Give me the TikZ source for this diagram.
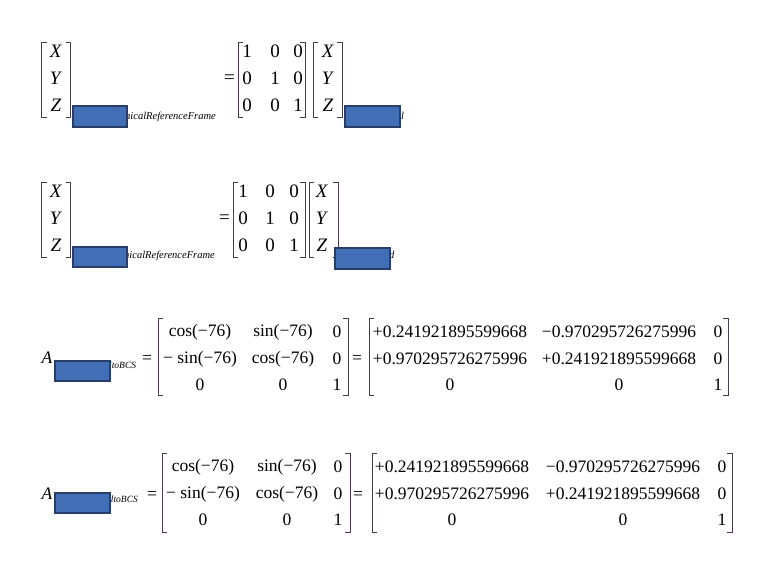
\documentclass[tikz,border=0pt]{standalone}
\usepackage{fontspec}
\setmainfont{Liberation Serif}
\definecolor{maskfill}{RGB}{66,110,182}
\definecolor{maskdraw}{RGB}{40,62,105}
\definecolor{brkc}{RGB}{70,60,72}
\tikzset{
  big/.style={font=\fontsize{19}{19}\selectfont, inner sep=0pt},
  mid/.style={font=\fontsize{17.5}{17.5}\selectfont, inner sep=0pt},
  subtxt/.style={font=\fontsize{10.5}{10.5}\selectfont\itshape, inner sep=0pt, anchor=base west},
  brk/.style={draw=brkc, line width=0.85pt},
  mask/.style={fill=maskfill, draw=maskdraw, line width=1.6pt},
}
\newcommand\lbr[3]{\draw[brk] (#1+5,#2) -- (#1,#2) -- (#1,#3) -- (#1+5,#3);}
\newcommand\rbr[3]{\draw[brk] (#1-5,#2) -- (#1,#2) -- (#1,#3) -- (#1-5,#3);}
\begin{document}
\begin{tikzpicture}[x=1pt,y=-1pt]
\useasboundingbox[fill=white] (0,0) rectangle (768,565);

% ---------- Equation 1 ----------
\lbr{41.7}{42.7}{117}\rbr{70.7}{42.7}{117}
\node[big] (a1x) at (56,51.7) {\textit{X}};
\node[big] (a1y) at (56,78.5) {\textit{Y}};
\node[big] (a1z) at (56,105.5) {\textit{Z}};
\node[subtxt] (a1s) at (125,119) {nicalReferenceFrame};
\draw[mask] (73,106) rectangle (127,127);
\node[big] (a1eq) at (229.5,79) {=};
\lbr{238}{42.7}{117}\rbr{305}{42.7}{117}
\node[big] (m1a) at (247,51.7) {1};
\node[big] (m1b) at (275,51.7) {0};
\node[big] (m1c) at (298,51.7) {0};
\node[big] (m1d) at (247,78.5) {0};
\node[big] (m1e) at (275,78.5) {1};
\node[big] (m1f) at (298,78.5) {0};
\node[big] (m1g) at (247,105.5) {0};
\node[big] (m1h) at (275,105.5) {0};
\node[big] (m1i) at (298,105.5) {1};
\lbr{313}{42.7}{117}\rbr{342}{42.7}{117}
\node[big] (b1x) at (328,51.7) {\textit{X}};
\node[big] (b1y) at (328,78.5) {\textit{Y}};
\node[big] (b1z) at (328,105.5) {\textit{Z}};
\node[subtxt] (b1s) at (401,119) {l};
\draw[mask] (345,106) rectangle (400,127);

% ---------- Equation 2 ----------
\lbr{41.7}{182.7}{257}\rbr{70.7}{182.7}{257}
\node[big] (a2x) at (56,191.7) {\textit{X}};
\node[big] (a2y) at (56,218.5) {\textit{Y}};
\node[big] (a2z) at (56,245.5) {\textit{Z}};
\node[subtxt] (a2s) at (124,258) {nicalReferenceFrame};
\draw[mask] (73,247) rectangle (127,267);
\node[big] (a2eq) at (224.5,219) {=};
\lbr{233}{182.7}{257}\rbr{305}{182.7}{257}
\node[big] (m2a) at (243,191.7) {1};
\node[big] (m2b) at (270,191.7) {0};
\node[big] (m2c) at (294,191.7) {0};
\node[big] (m2d) at (243,218.5) {0};
\node[big] (m2e) at (270,218.5) {1};
\node[big] (m2f) at (294,218.5) {0};
\node[big] (m2g) at (243,245.5) {0};
\node[big] (m2h) at (270,245.5) {0};
\node[big] (m2i) at (294,245.5) {1};
\lbr{309}{182.7}{257}\rbr{338}{182.7}{257}
\node[big] (b2x) at (322,191.7) {\textit{X}};
\node[big] (b2y) at (322,218.5) {\textit{Y}};
\node[big] (b2z) at (322,245.5) {\textit{Z}};
\node[subtxt] (b2s) at (389,258) {d};
\draw[mask] (335,248) rectangle (390,269);

% ---------- Equation 3 ----------
\node[mid] (a3) at (47,358) {\textit{A}};
\node[subtxt, font=\fontsize{9.5}{9.5}\selectfont\itshape] (a3s) at (109,368) {ltoBCS};
\draw[mask] (55,361) rectangle (110,381);
\node[mid] (e3a) at (147,359) {=};
\lbr{158}{318}{395}\rbr{348}{318}{395}
\node[mid] (c3a) at (200,332) {cos(−76)};
\node[mid] (c3b) at (283,332) {sin(−76)};
\node[mid] (c3c) at (337,332) {0};
\node[mid] (c3d) at (200,359) {− sin(−76)};
\node[mid] (c3e) at (283,359) {cos(−76)};
\node[mid] (c3f) at (337,359) {0};
\node[mid] (c3g) at (200,385) {0};
\node[mid] (c3h) at (283,385) {0};
\node[mid] (c3i) at (337,385) {1};
\node[mid] (e3b) at (357,359) {=};
\lbr{369}{318}{395}\rbr{728}{318}{395}
\node[mid] (d3a) at (450,332) {+0.241921895599668};
\node[mid] (d3b) at (619,332) {−0.970295726275996};
\node[mid] (d3c) at (718,332) {0};
\node[mid] (d3d) at (450,359) {+0.970295726275996};
\node[mid] (d3e) at (619,359) {+0.241921895599668};
\node[mid] (d3f) at (718,359) {0};
\node[mid] (d3g) at (450,385) {0};
\node[mid] (d3h) at (619,385) {0};
\node[mid] (d3i) at (718,385) {1};

% ---------- Equation 4 ----------
\node[mid] (a4) at (47,494) {\textit{A}};
\node[subtxt, font=\fontsize{9.5}{9.5}\selectfont\itshape] (a4s) at (106,502) {altoBCS};
\draw[mask] (55,493) rectangle (110,513);
\node[mid] (e4a) at (152,495) {=};
\lbr{162}{453}{532}\rbr{350}{453}{532}
\node[mid] (c4a) at (203,467) {cos(−76)};
\node[mid] (c4b) at (287,467) {sin(−76)};
\node[mid] (c4c) at (338,467) {0};
\node[mid] (c4d) at (203,494) {− sin(−76)};
\node[mid] (c4e) at (287,494) {cos(−76)};
\node[mid] (c4f) at (338,494) {0};
\node[mid] (c4g) at (203,520) {0};
\node[mid] (c4h) at (287,520) {0};
\node[mid] (c4i) at (338,520) {1};
\node[mid] (e4b) at (358,495) {=};
\lbr{372}{453}{532}\rbr{732}{453}{532}
\node[mid] (d4a) at (452,467) {+0.241921895599668};
\node[mid] (d4b) at (623,467) {−0.970295726275996};
\node[mid] (d4c) at (722,467) {0};
\node[mid] (d4d) at (452,494) {+0.970295726275996};
\node[mid] (d4e) at (623,494) {+0.241921895599668};
\node[mid] (d4f) at (722,494) {0};
\node[mid] (d4g) at (452,520) {0};
\node[mid] (d4h) at (623,520) {0};
\node[mid] (d4i) at (722,520) {1};
\end{tikzpicture}
\end{document}
